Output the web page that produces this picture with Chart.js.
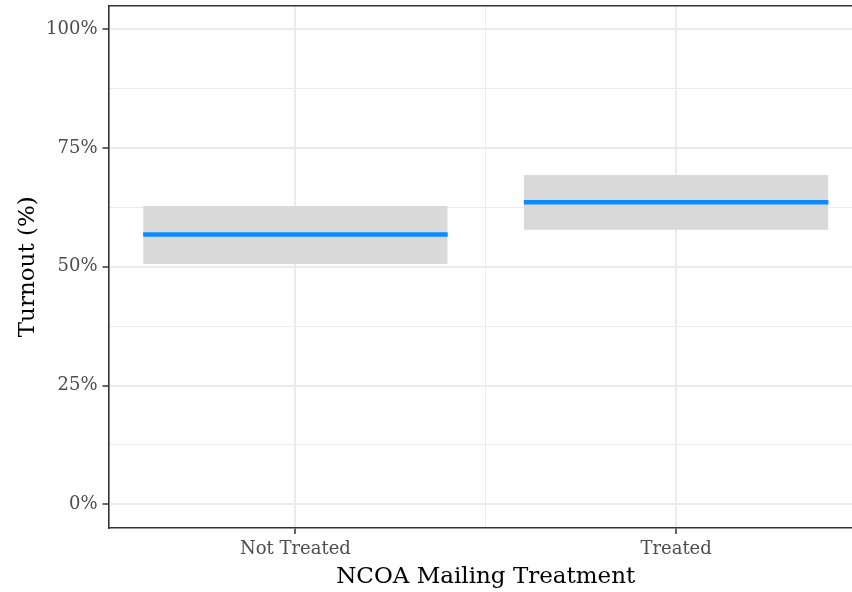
<!DOCTYPE html>
<html>
<head>
<meta charset="utf-8">
<script src="https://cdn.jsdelivr.net/npm/chart.js@4.4.1/dist/chart.umd.min.js"></script>
<style>
  html, body { margin: 0; padding: 0; background: #ffffff; overflow: hidden; }
  #wrap { width: 852px; height: 592px; overflow: hidden; }
</style>
</head>
<body>
<div id="wrap"><canvas id="chart" width="863" height="592"></canvas></div>
<script>
// Turnout by NCOA mailing treatment: mean with interval band
const categories = ['Not Treated', 'Treated'];
const turnoutMean = [56.8, 63.6];
const turnoutLow = [50.6, 57.8];
const turnoutHigh = [62.8, 69.3];
const yTickValues = [0, 12.5, 25, 37.5, 50, 62.5, 75, 87.5, 100];
const yLabelledTicks = [0, 25, 50, 75, 100];

const BAR_HALF = 0.4;          // crossbar half-width in category units
const BAND_FILL = '#d9d9d9';
const MEAN_COLOR = '#0a8cff';
const GRID = '#ebebeb';
const AXIS = '#333333';
const FONT = "'DejaVu Serif', serif";

const datasets = [];
categories.forEach((cat, i) => {
  const x0 = i - BAR_HALF, x1 = i + BAR_HALF;
  // mean line, drawn on top
  datasets.push({
    label: cat + ' mean',
    data: [{x: x0, y: turnoutMean[i]}, {x: x1, y: turnoutMean[i]}],
    borderColor: MEAN_COLOR, borderWidth: 4.5, pointRadius: 0,
    fill: false, order: 0, borderCapStyle: 'butt'
  });
});
categories.forEach((cat, i) => {
  const x0 = i - BAR_HALF, x1 = i + BAR_HALF;
  // upper edge, filled down to the lower edge that follows it
  datasets.push({
    label: cat + ' high',
    data: [{x: x0, y: turnoutHigh[i]}, {x: x1, y: turnoutHigh[i]}],
    borderWidth: 0, borderColor: 'rgba(0,0,0,0)', pointRadius: 0,
    backgroundColor: BAND_FILL, fill: '+1', order: 1
  });
  datasets.push({
    label: cat + ' low',
    data: [{x: x0, y: turnoutLow[i]}, {x: x1, y: turnoutLow[i]}],
    borderWidth: 0, borderColor: 'rgba(0,0,0,0)', pointRadius: 0,
    fill: false, order: 1
  });
});

const tickFont = { family: FONT, size: 18 };
const titleFont = { family: FONT, size: 23 };

new Chart(document.getElementById('chart'), {
  type: 'line',
  data: { datasets },
  options: {
    responsive: false,
    animation: false,
    devicePixelRatio: 1,
    layout: { padding: 0 },
    plugins: { legend: { display: false }, tooltip: { enabled: false } },
    scales: {
      x: {
        type: 'linear',
        position: 'bottom',
        min: -0.491, max: 1.491,
        afterBuildTicks: s => { s.ticks = [{value: 0}, {value: 0.5}, {value: 1}]; },
        afterFit: s => { s.height = 64; s.paddingLeft = 0; s.paddingRight = 0; },
        ticks: {
          autoSkip: false, maxRotation: 0, padding: 5, color: '#4d4d4d', font: tickFont,
          callback: v => (Number.isInteger(v) ? categories[v] : '')
        },
        grid: {
          color: GRID,
          lineWidth: c => (c.tick && Number.isInteger(c.tick.value) ? 2 : 1),
          drawTicks: true, tickLength: 6, tickWidth: 1.5,
          tickColor: c => (c.tick && Number.isInteger(c.tick.value) ? AXIS : 'rgba(0,0,0,0)')
        },
        border: { display: true, color: AXIS, width: 1.6 },
        title: {
          display: true, text: 'NCOA Mailing Treatment', color: '#000000',
          font: titleFont, padding: { top: 0, bottom: 1 }
        }
      },
      xTop: {
        type: 'linear',
        position: 'top',
        afterFit: s => { s.height = 5.5; s.paddingLeft = 0; s.paddingRight = 0; },
        ticks: { display: false },
        grid: { drawOnChartArea: false, drawTicks: false },
        border: { display: true, color: AXIS, width: 1.6 }
      },
      y: {
        type: 'linear',
        min: -5, max: 105,
        afterBuildTicks: s => { s.ticks = yTickValues.map(v => ({value: v})); },
        afterFit: s => { s.width = 108.5; s.paddingTop = 0; s.paddingBottom = 0; },
        ticks: {
          autoSkip: false, padding: 5, color: '#4d4d4d', font: tickFont,
          callback: v => (yLabelledTicks.includes(v) ? v + '%' : '')
        },
        grid: {
          color: GRID,
          lineWidth: c => (c.tick && yLabelledTicks.includes(c.tick.value) ? 2 : 1),
          drawTicks: true, tickLength: 6, tickWidth: 1.5,
          tickColor: c => (c.tick && yLabelledTicks.includes(c.tick.value) ? AXIS : 'rgba(0,0,0,0)')
        },
        border: { display: true, color: AXIS, width: 1.6 },
        title: {
          display: true, text: 'Turnout (%)', color: '#000000',
          font: titleFont, padding: { top: 14, bottom: 0 }
        }
      }
    }
  }
});
</script>
</body>
</html>
